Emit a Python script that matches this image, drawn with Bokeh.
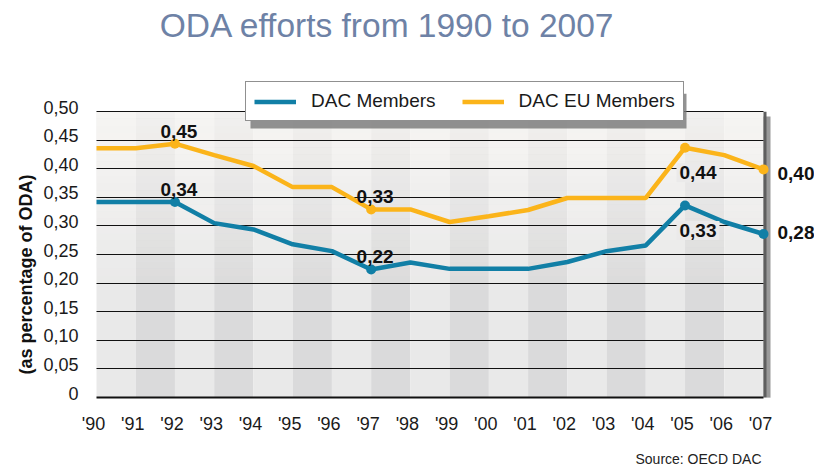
import math
from bokeh.plotting import figure
from bokeh.models import (Range1d, FixedTicker, Label, BoxAnnotation, Legend,
                          LegendItem, ColumnDataSource, Title, LinearAxis)
from bokeh.embed import file_html
from bokeh.resources import INLINE

# ---------------- data ----------------
years = list(range(1990, 2008))
year_labels = ["'90", "'91", "'92", "'93", "'94", "'95", "'96", "'97", "'98",
               "'99", "'00", "'01", "'02", "'03", "'04", "'05", "'06", "'07"]
dac = [0.342, 0.342, 0.342, 0.305, 0.294, 0.268, 0.256, 0.224, 0.236, 0.225,
       0.225, 0.225, 0.237, 0.256, 0.266, 0.336, 0.307, 0.286]
dac_eu = [0.436, 0.436, 0.444, 0.424, 0.405, 0.368, 0.368, 0.329, 0.329, 0.307,
          0.317, 0.328, 0.349, 0.349, 0.349, 0.437, 0.424, 0.399]
marked_years = [1992, 1997, 2005, 2007]
dac_marked_labels = ["0,34", "0,22", "0,33", "0,28"]
eu_marked_labels = ["0,45", "0,33", "0,44", "0,40"]
y_ticks = [0, 0.05, 0.10, 0.15, 0.20, 0.25, 0.30, 0.35, 0.40, 0.45, 0.50]
y_tick_labels = ["0", "0,05", "0,10", "0,15", "0,20", "0,25", "0,30", "0,35",
                 "0,40", "0,45", "0,50"]
series_names = ["DAC Members", "DAC EU Members"]
title_text = "ODA efforts from 1990 to 2007"
y_title = "(as percentage of ODA)"
source_text = "Source: OECD DAC"

BLUE = "#117fa6"
GOLD = "#fbb41a"
FONT = "Liberation Sans"

# ---------------- geometry (page pixels) ----------------
W, H = 814, 469
PL, PR, PT, PB = 96, 763, 112, 400      # plot box (0..0.5 / 1990..2007)
FL = 90                                  # frame starts a little left of the box
X0, X1 = years[0], years[-1]
Y0, Y1 = 0.0, 0.5


def dx(px):
    return X0 + (px - PL) * (X1 - X0) / (PR - PL)


def dy(py):
    return Y0 + (PB - py) * (Y1 - Y0) / (PB - PT)


XS = dx(PL + 3) - X0      # year labels sit 3px left of their points
YS = dy(PB - 4.5) - Y0    # value-axis labels sit 4.5px above their lines

p = figure(width=W, height=H, x_range=Range1d(dx(FL), dx(W)),
           y_range=Range1d(Y0, dy(0)),
           output_backend="svg", toolbar_location=None, title_location=None,
           min_border_left=FL, min_border_right=0, min_border_top=0,
           min_border_bottom=H - PB)
p.extra_x_ranges = {"lab": Range1d(dx(FL) + XS, dx(W) + XS)}
p.extra_y_ranges = {"lab": Range1d(Y0 - YS, dy(0) - YS)}
p.outline_line_color = None
p.background_fill_color = "white"
p.border_fill_color = "white"

# ---------------- background stripes ----------------
n = len(years) - 1
p.quad(left=years[:-1], right=years[1:], bottom=[Y0] * n, top=[Y1] * n,
       fill_color=["#e9e9e9" if i % 2 == 0 else "#dadadb" for i in range(n)],
       line_color=None, level="image")
nb = 40
bl, bt, ba = [], [], []
for i in range(nb):
    b = Y0 + (Y1 - Y0) * i / nb
    t = Y0 + (Y1 - Y0) * (i + 1) / nb
    m = (b + t) / 2
    f = max(0.0, (m - 0.17) / (Y1 - 0.17))
    bl.append(b)
    bt.append(t)
    ba.append(0.72 * f)
p.quad(left=[X0] * nb, right=[X1] * nb, bottom=bl, top=bt,
       fill_color="#fbf9f6", fill_alpha=ba, line_color=None, level="image")

# ---------------- shadows of the plot box ----------------
p.add_layout(BoxAnnotation(left=X1, right=dx(PR + 7), top=dy(PT + 5), bottom=dy(PB + 7),
                           fill_color="#9a9a9a", fill_alpha=1, line_color=None,
                           level="image"))
p.add_layout(BoxAnnotation(left=dx(PL + 4), right=dx(PR + 7), top=Y0, bottom=dy(PB + 7),
                           fill_color="#9a9a9a", fill_alpha=1, line_color=None,
                           level="image"))
p.add_layout(BoxAnnotation(left=X1, right=dx(PR + 3), top=Y1, bottom=Y0,
                           fill_color="#5e5e5e", fill_alpha=1, line_color=None,
                           level="image"))

# ---------------- axes & grid ----------------
p.ygrid.ticker = FixedTicker(ticks=y_ticks)
p.ygrid.grid_line_color = "#111111"
p.ygrid.grid_line_width = 1
p.ygrid.cross_bounds = (X0, X1)
p.xgrid.grid_line_color = None

xax = p.xaxis[0]
yax = p.yaxis[0]
xax.x_range_name = "lab"
yax.y_range_name = "lab"
yax.ticker = FixedTicker(ticks=y_ticks)
yax.major_label_overrides = {t: l for t, l in zip(y_ticks, y_tick_labels)}
xax.ticker = FixedTicker(ticks=years)
xax.major_label_overrides = {y: l for y, l in zip(years, year_labels)}
for ax in (xax, yax):
    ax.major_tick_line_color = None
    ax.minor_tick_line_color = None
    ax.major_tick_out = 0
    ax.major_tick_in = 0
    ax.minor_tick_out = 0
    ax.major_label_text_font = FONT
    ax.major_label_text_font_size = "18px"
    ax.major_label_text_color = "#1a1a1a"
yax.axis_line_color = None
yax.major_label_standoff = 12
xax.axis_line_color = "#111111"
xax.axis_line_width = 2
xax.bounds = (X0 + XS, X1 + XS)
xax.major_label_standoff = 16

# source line under the year labels (a label-only axis)
src_x = dx(698)
src_axis = LinearAxis(ticker=FixedTicker(ticks=[src_x]),
                      major_label_overrides={src_x: source_text},
                      axis_line_color=None, major_tick_line_color=None,
                      minor_tick_line_color=None, major_tick_out=0, major_tick_in=0,
                      minor_tick_out=0, major_label_standoff=14,
                      major_label_text_font=FONT, major_label_text_font_size="14px",
                      major_label_text_color="#222222")
p.add_layout(src_axis, "below")

# ---------------- series ----------------
src = ColumnDataSource(dict(x=years, dac=dac, eu=dac_eu))
l_dac = p.line("x", "dac", source=src, line_color=BLUE, line_width=4.5)
l_eu = p.line("x", "eu", source=src, line_color=GOLD, line_width=4.5)
mi = [years.index(y) for y in marked_years]
p.scatter([years[i] for i in mi], [dac[i] for i in mi], size=10,
          fill_color=BLUE, line_color=None)
p.scatter([years[i] for i in mi], [dac_eu[i] for i in mi], size=10,
          fill_color=GOLD, line_color=None)


# ---------------- value labels ----------------
def vlabel(x, y, text, **kw):
    args = dict(x=x, y=y, text=text, text_font=FONT, text_font_size="19px",
                text_font_style="bold", text_color="#111111")
    args.update(kw)
    p.add_layout(Label(**args))


for k in (0, 1):
    i = mi[k]
    vlabel(years[i] + 0.1, dac_eu[i], eu_marked_labels[k], text_align="center",
           text_baseline="bottom", y_offset=6)
    vlabel(years[i] + 0.1, dac[i], dac_marked_labels[k], text_align="center",
           text_baseline="bottom", y_offset=6)
i = mi[2]
for val, lab in ((dac_eu[i], eu_marked_labels[2]), (dac[i], dac_marked_labels[2])):
    vlabel(years[i] + 0.33, val, lab, text_align="center", text_baseline="middle",
           y_offset=-25, background_fill_color="#ebeaea", background_fill_alpha=1,
           padding=3)
i = mi[3]
vlabel(years[i], dac_eu[i], eu_marked_labels[3], text_align="left",
       text_baseline="middle", x_offset=14, y_offset=-4)
vlabel(years[i], dac[i], dac_marked_labels[3], text_align="left",
       text_baseline="middle", x_offset=14, y_offset=1)

# ---------------- legend ----------------
p.add_layout(BoxAnnotation(left=dx(250), right=dx(686), top=dy(94), bottom=dy(129),
                           fill_color="#777777", fill_alpha=0.8, line_color=None,
                           level="annotation"))
legend = Legend(items=[LegendItem(label=series_names[0], renderers=[l_dac]),
                       LegendItem(label=series_names[1], renderers=[l_eu])],
                location=(245 - FL, PB - 124), orientation="horizontal",
                border_line_color="#222222", border_line_width=1.5,
                background_fill_color="white", background_fill_alpha=1,
                label_text_font=FONT, label_text_font_size="19px",
                label_text_color="#1a1a1a", glyph_width=42, glyph_height=19,
                label_standoff=15, spacing=26, padding=8, margin=0)
p.add_layout(legend, "center")

# ---------------- titles ----------------
p.add_layout(Label(x=dx(387), y=dy(25), text=title_text, text_align="center",
                   text_baseline="middle", text_font=FONT,
                   text_font_size="33.5px", text_color="#6e82a6"))
p.add_layout(Title(text=y_title, align="left", offset=23, text_font=FONT,
                   text_font_size="18px", text_font_style="bold",
                   text_color="#111111"), "left")

open("out.html", "w").write(file_html(p, INLINE))
